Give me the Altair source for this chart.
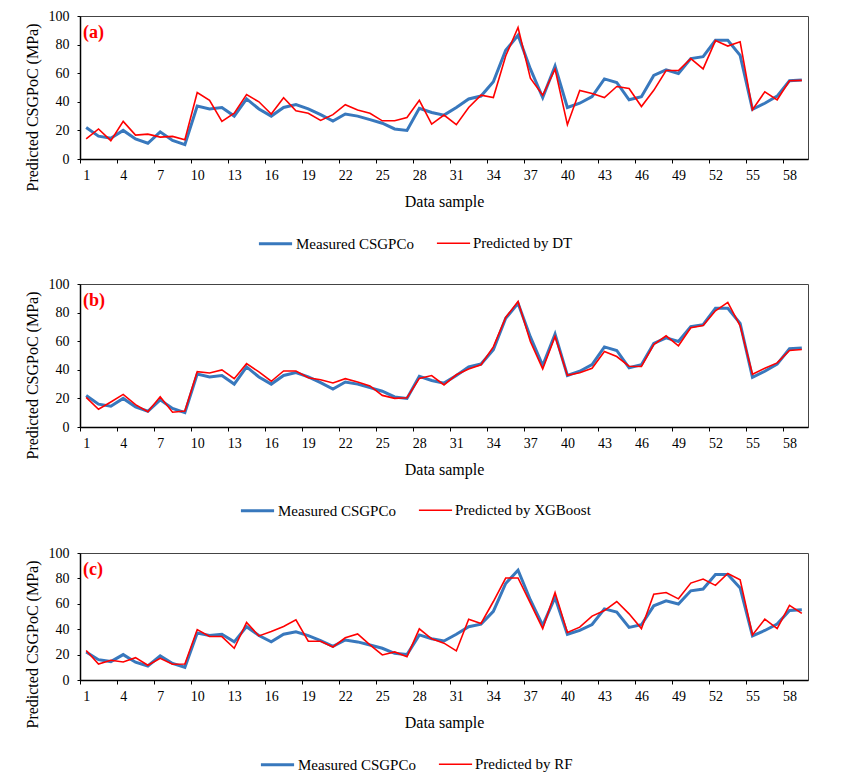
import altair as alt
import pandas as pd

samples = list(range(1, 60))
measured = [22, 16, 14.5, 20, 14, 11, 19, 13, 10, 37,
            35, 36, 30, 42, 35, 30, 36, 38, 35, 31,
            26.5, 31.5, 30, 27.5, 25, 21, 20, 35.5, 32.5, 30.7,
            36, 42, 44, 54, 76, 86.5, 63, 43, 65, 36,
            39, 43.7, 56, 53.5, 41.4, 43.5, 58.4, 62.3, 59.8, 70.2,
            71.6, 83, 83, 72.5, 34.7, 39, 44, 54.7, 55.3]
pred_dt = [14, 21, 12.8, 26.3, 16.7, 17.4, 15.3, 15.8, 13.5, 46.5,
           41, 26.3, 32, 45, 40, 31.4, 42.8, 33.7, 32, 27,
           31, 38, 34.2, 32, 26.7, 26.7, 29, 41, 24.4, 30.7,
           24, 36, 44.6, 43, 72, 92, 56.5, 44.6, 62.8, 24,
           48, 45.8, 43, 50.7, 49.3, 36.7, 48, 61.9, 61.9, 70.2,
           63, 82.8, 79, 82, 34.4, 47, 41.4, 54.7, 55]
pred_xgb = [20.7, 12.4, 17.5, 22.8, 15.6, 10.7, 21.2, 10.3, 11.2, 38.7,
            37.8, 39.9, 33.8, 44.3, 38.5, 32, 39.2, 39.2, 34.5, 33.1,
            30.8, 33.8, 31.5, 28.7, 22.1, 20, 20.5, 34, 36, 29.4,
            36.5, 40.5, 43.5, 56, 76.6, 87.8, 59.8, 40.7, 63.3, 36.2,
            38, 41.1, 52.8, 49.3, 42.5, 42.3, 57.7, 63.8, 56.8, 69.4,
            71, 81.3, 87.1, 70.8, 36.9, 41.1, 44.8, 53.5, 54.2]
pred_rf = [23.2, 12.6, 15.5, 14.2, 17.6, 11.6, 17.1, 12.4, 12.6, 39.7,
           34.2, 34.2, 25, 45.3, 34.7, 38.2, 42.1, 47.4, 30.5, 30.5,
           26, 33.2, 36.3, 27.6, 19.7, 22.1, 18.4, 40.3, 32.4, 29,
           22.9, 47.9, 44.5, 61.8, 80.3, 80.3, 60.5, 40.5, 68.9, 37.4,
           41.6, 50.3, 54.7, 61.8, 52.1, 40.5, 67.6, 68.9, 63.9, 76.3,
           79.5, 74.5, 83.9, 78.9, 35.5, 47.9, 40.5, 58.7, 52.4]

measured_name = "Measured CSGPCo"
panels = [
    ("(a)", "Predicted by DT", pred_dt, 143, 177, 209),
    ("(b)", "Predicted by XGBoost", pred_xgb, 143, 159, 208),
    ("(c)", "Predicted by RF", pred_rf, 127, 179, 193),
]

tick_vals = [0.5 + 3 * k for k in range(20)]
y_vals = [0, 20, 40, 60, 80, 100]
FONT = "Liberation Serif"
BLUE = "#3878bd"
RED = "#ff0000"
W = 728


def legend(lx, ly):
    return alt.Legend(title=None, orient="none", legendX=lx, legendY=ly,
                      direction="horizontal", symbolType="stroke",
                      symbolSize=1100, labelFont=FONT, labelFontSize=15,
                      labelColor="black", labelOffset=2,
                      columnPadding=19, padding=0)


charts = []
for tag, pname, pred, h, lx, ly in panels:
    rows = []
    for s, v in zip(samples, measured):
        rows.append({"sample": s, "value": v, "series": measured_name})
    for s, v in zip(samples, pred):
        rows.append({"sample": s, "value": v, "series": pname})
    df = pd.DataFrame(rows)

    lines = alt.Chart(df).mark_line().encode(
        x=alt.X("sample:Q",
                scale=alt.Scale(domain=[0.5, 59.5], nice=False, zero=False),
                axis=alt.Axis(values=tick_vals, labelExpr="'' + (datum.value + 0.5)",
                              labelOffset=W / 59 / 2, labelFlush=False, labelOverlap=False,
                              labelBound=False, grid=False, tickSize=4, labelPadding=5,
                              title="Data sample", titleY=42, titleBaseline="middle",
                              titleFontWeight="normal")),
        y=alt.Y("value:Q",
                scale=alt.Scale(domain=[0, 100], nice=False),
                axis=alt.Axis(values=y_vals, grid=False, tickSize=3, labelPadding=8,
                              title="Predicted CSGPoC (MPa)", titleX=-48, titleY=91,
                              titleBaseline="middle", titleFontWeight="normal")),
        color=alt.Color("series:N",
                        scale=alt.Scale(domain=[measured_name, pname], range=[BLUE, RED]),
                        legend=legend(lx, ly)),
        strokeWidth=alt.StrokeWidth("series:N",
                                    scale=alt.Scale(domain=[measured_name, pname], range=[3, 1.6]),
                                    legend=legend(lx, ly)),
    )

    label = alt.Chart(pd.DataFrame({"t": [tag]})).mark_text(
        align="left", baseline="middle", font=FONT, fontSize=18, fontWeight="bold", color=RED
    ).encode(x=alt.value(3), y=alt.value(17), text="t:N")

    chart = alt.layer(lines, label).properties(width=W, height=h)
    charts.append(chart)

top = alt.vconcat(charts[0], charts[1], spacing=23).resolve_scale(
    color="independent", strokeWidth="independent"
).resolve_legend(color="independent", strokeWidth="independent")

final = alt.vconcat(top, charts[2], spacing=25).resolve_scale(
    color="independent", strokeWidth="independent"
).resolve_legend(color="independent", strokeWidth="independent").properties(
    padding={"left": 15, "top": 0, "right": 5, "bottom": 5}
).configure_view(stroke="#444444", strokeWidth=1).configure_axis(
    labelFont=FONT, labelFontSize=14, labelColor="black",
    titleFont=FONT, titleFontSize=16, titleColor="black",
    domainColor="black", domainWidth=1.5, tickColor="black", tickWidth=1
)

final.save("out.html", embed_options={"renderer": "svg", "actions": False})
